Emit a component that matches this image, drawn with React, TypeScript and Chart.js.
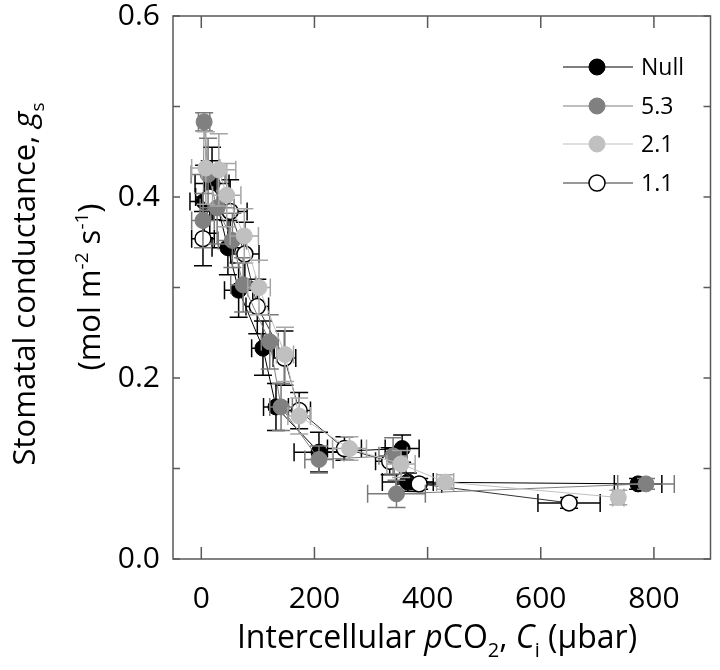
import { useEffect, useRef } from 'react';
import { Chart, registerables } from 'chart.js';

Chart.register(...registerables);

// ---------- data ----------
const seriesNames = ['Null', '5.3', '2.1', '1.1'];

const nullX = [5, 19, 47, 66, 109, 132, 208, 355, 365, 772];
const nullY = [0.395, 0.415, 0.344, 0.297, 0.233, 0.168, 0.118, 0.122, 0.085, 0.083];
const nullXErr = [25, 30, 28, 25, 20, 22, 44, 30, 45, 42];
const nullYErr = [0.04, 0.04, 0.03, 0.03, 0.03, 0.026, 0.022, 0.015, 0.01, 0.006];

const s53X = [3, 5, 12, 28, 55, 74, 121, 141, 208, 339, 345, 786];
const s53Y = [0.374, 0.483, 0.425, 0.388, 0.352, 0.303, 0.24, 0.168, 0.11, 0.114, 0.072, 0.083];
const s53XErr = [20, 10, 30, 30, 25, 22, 15, 20, 25, 25, 51, 50];
const s53YErr = [0.03, 0.01, 0.04, 0.04, 0.03, 0.03, 0.03, 0.026, 0.015, 0.02, 0.015, 0.006];

const s21X = [8, 31, 45, 76, 102, 148, 173, 262, 353, 431, 737];
const s21Y = [0.432, 0.43, 0.402, 0.357, 0.3, 0.226, 0.158, 0.122, 0.105, 0.085, 0.068];
const s21XErr = [25, 30, 25, 25, 20, 15, 20, 30, 25, 15, 10];
const s21YErr = [0.04, 0.04, 0.035, 0.03, 0.03, 0.03, 0.02, 0.013, 0.015, 0.008, 0.008];

const s11X = [3, 15, 51, 77, 99, 147, 173, 253, 333, 385, 650];
const s11Y = [0.354, 0.4, 0.384, 0.337, 0.279, 0.222, 0.164, 0.122, 0.108, 0.083, 0.062];
const s11XErr = [20, 25, 30, 25, 20, 20, 20, 30, 25, 40, 55];
const s11YErr = [0.03, 0.04, 0.035, 0.035, 0.03, 0.03, 0.02, 0.013, 0.015, 0.006, 0.006];

const xTickValues = [0, 200, 400, 600, 800];
const yTickValues = [0, 0.2, 0.4, 0.6];
const yMinorTickValues = [0, 0.1, 0.2, 0.3, 0.4, 0.5, 0.6];

const FONT = '"Open Sans", "Liberation Sans", sans-serif';

type Seg = { t: string; italic?: boolean; sub?: boolean; sup?: boolean };

const xTitle: Seg[] = [
  { t: 'Intercellular ' },
  { t: 'p', italic: true },
  { t: 'CO' },
  { t: '2', sub: true },
  { t: ', ' },
  { t: 'C', italic: true },
  { t: 'i', sub: true },
  { t: ' (µbar)' },
];
const yTitle1: Seg[] = [
  { t: 'Stomatal conductance, ' },
  { t: 'g', italic: true },
  { t: 's', sub: true },
];
const yTitle2: Seg[] = [
  { t: '(mol m' },
  { t: '-2', sup: true },
  { t: ' s' },
  { t: '-1', sup: true },
  { t: ')' },
];

function drawRich(ctx: CanvasRenderingContext2D, segs: Seg[], x: number, y: number, size: number) {
  const small = Math.round(size * 0.62);
  const fontFor = (s: Seg) => `${s.italic ? 'italic ' : ''}${s.sub || s.sup ? small : size}px ${FONT}`;
  let w = 0;
  for (const s of segs) {
    ctx.font = fontFor(s);
    w += ctx.measureText(s.t).width;
  }
  let cx = x - w / 2;
  ctx.textAlign = 'left';
  ctx.textBaseline = 'alphabetic';
  for (const s of segs) {
    ctx.font = fontFor(s);
    const dy = s.sub ? size * 0.28 : s.sup ? -size * 0.4 : 0;
    ctx.fillText(s.t, cx, y + dy);
    cx += ctx.measureText(s.t).width;
  }
}

const errorBarPlugin = {
  id: 'errorBars',
  beforeDatasetDraw(chart: any, args: any) {
    const ds = chart.data.datasets[args.index];
    const meta = args.meta;
    const xs = chart.scales.x;
    const ys = chart.scales.y;
    const ctx = chart.ctx as CanvasRenderingContext2D;
    const cap = 9;
    ctx.save();
    ctx.strokeStyle = ds.errColor;
    ctx.lineWidth = 1.5;
    ds.data.forEach((p: any, i: number) => {
      if (!meta.data[i]) return;
      const px = xs.getPixelForValue(p.x);
      const py = ys.getPixelForValue(p.y);
      const x0 = xs.getPixelForValue(p.x - ds.xErr[i]);
      const x1 = xs.getPixelForValue(p.x + ds.xErr[i]);
      const y0 = ys.getPixelForValue(p.y - ds.yErr[i]);
      const y1 = ys.getPixelForValue(p.y + ds.yErr[i]);
      ctx.beginPath();
      ctx.moveTo(x0, py); ctx.lineTo(x1, py);
      ctx.moveTo(x0, py - cap); ctx.lineTo(x0, py + cap);
      ctx.moveTo(x1, py - cap); ctx.lineTo(x1, py + cap);
      ctx.moveTo(px, y0); ctx.lineTo(px, y1);
      ctx.moveTo(px - cap, y0); ctx.lineTo(px + cap, y0);
      ctx.moveTo(px - cap, y1); ctx.lineTo(px + cap, y1);
      ctx.stroke();
    });
    ctx.restore();
  },
};

const framePlugin = {
  id: 'frameAndTitles',
  afterDraw(chart: any) {
    const ctx = chart.ctx as CanvasRenderingContext2D;
    const a = chart.chartArea;
    const xs = chart.scales.x;
    const ys = chart.scales.y;
    ctx.save();
    ctx.strokeStyle = '#595959';
    ctx.lineWidth = 1.5;
    ctx.strokeRect(a.left, a.top, a.right - a.left, a.bottom - a.top);
    ctx.beginPath();
    for (const v of xTickValues) {
      const px = xs.getPixelForValue(v);
      ctx.moveTo(px, a.bottom); ctx.lineTo(px, a.bottom - 12);
      ctx.moveTo(px, a.top); ctx.lineTo(px, a.top + 12);
    }
    for (const v of yMinorTickValues) {
      const py = ys.getPixelForValue(v);
      ctx.moveTo(a.left, py); ctx.lineTo(a.left + 7, py);
      ctx.moveTo(a.right, py); ctx.lineTo(a.right - 7, py);
    }
    ctx.stroke();

    // legend
    const legendY = [67, 106, 144, 183];
    chart.data.datasets.forEach((ds: any, i: number) => {
      const y = legendY[i];
      ctx.strokeStyle = ds.borderColor;
      ctx.lineWidth = 1.2;
      ctx.beginPath();
      ctx.moveTo(563, y); ctx.lineTo(633, y);
      ctx.stroke();
      ctx.beginPath();
      ctx.arc(597, y, 8, 0, Math.PI * 2);
      ctx.fillStyle = ds.pointBackgroundColor;
      ctx.fill();
      ctx.strokeStyle = ds.pointBorderColor;
      ctx.lineWidth = ds.pointBorderWidth;
      ctx.stroke();
      ctx.fillStyle = '#000';
      ctx.font = `23px ${FONT}`;
      ctx.textAlign = 'left';
      ctx.textBaseline = 'middle';
      ctx.fillText(seriesNames[i], 641, y + 1);
    });

    // axis titles
    ctx.fillStyle = '#000';
    drawRich(ctx, xTitle, 437, 648, 32);
    ctx.save();
    ctx.translate(35, 284);
    ctx.rotate(-Math.PI / 2);
    drawRich(ctx, yTitle1, 0, 0, 31);
    ctx.restore();
    ctx.save();
    ctx.translate(100, 287);
    ctx.rotate(-Math.PI / 2);
    drawRich(ctx, yTitle2, 0, 0, 31);
    ctx.restore();
    ctx.restore();
  },
};

function toPoints(xs: number[], ys: number[]) {
  return xs.map((x, i) => ({ x, y: ys[i] }));
}

export default function App() {
  const ref = useRef<HTMLCanvasElement | null>(null);
  useEffect(() => {
    if (!ref.current) return;
    const chart = new Chart(ref.current, {
      type: 'scatter',
      data: {
        datasets: [
          {
            label: seriesNames[0], data: toPoints(nullX, nullY), xErr: nullXErr, yErr: nullYErr,
            errColor: '#000000', showLine: true, borderColor: '#000000', borderWidth: 1,
            pointRadius: 8, pointBackgroundColor: '#000000', pointBorderColor: '#000000', pointBorderWidth: 1, order: 4,
          },
          {
            label: seriesNames[1], data: toPoints(s53X, s53Y), xErr: s53XErr, yErr: s53YErr,
            errColor: '#7a7a7a', showLine: true, borderColor: '#7f7f7f', borderWidth: 1,
            pointRadius: 8, pointBackgroundColor: '#808080', pointBorderColor: '#808080', pointBorderWidth: 1, order: 2,
          },
          {
            label: seriesNames[2], data: toPoints(s21X, s21Y), xErr: s21XErr, yErr: s21YErr,
            errColor: '#a6a6a6', showLine: true, borderColor: '#bfbfbf', borderWidth: 1,
            pointRadius: 8, pointBackgroundColor: '#c0c0c0', pointBorderColor: '#c0c0c0', pointBorderWidth: 1, order: 1,
          },
          {
            label: seriesNames[3], data: toPoints(s11X, s11Y), xErr: s11XErr, yErr: s11YErr,
            errColor: '#000000', showLine: true, borderColor: '#333333', borderWidth: 1,
            pointRadius: 8, pointBackgroundColor: '#ffffff', pointBorderColor: '#000000', pointBorderWidth: 1.5, order: 3,
          },
        ] as any,
      },
      options: {
        animation: false,
        responsive: false,
        maintainAspectRatio: false,
        layout: { padding: { top: 16, right: 3, left: 0, bottom: 0 } },
        plugins: { legend: { display: false }, tooltip: { enabled: false } },
        scales: {
          x: {
            type: 'linear', min: -50, max: 900,
            afterBuildTicks: (s: any) => { s.ticks = xTickValues.map((v) => ({ value: v })); },
            afterFit: (s: any) => { s.height = 111; s.paddingLeft = 0; s.paddingRight = 0; },
            ticks: { font: { family: FONT, size: 30 }, color: '#000', padding: 22, maxRotation: 0, callback: (v: any) => String(v) },
            grid: { display: false, drawTicks: false },
            border: { display: false },
          },
          y: {
            type: 'linear', min: 0, max: 0.6,
            afterBuildTicks: (s: any) => { s.ticks = yTickValues.map((v) => ({ value: v })); },
            afterFit: (s: any) => { s.width = 173; s.paddingTop = 0; s.paddingBottom = 0; },
            ticks: { font: { family: FONT, size: 30 }, color: '#000', padding: 13, callback: (v: any) => Number(v).toFixed(1) },
            grid: { display: false, drawTicks: false },
            border: { display: false },
          },
        },
      },
      plugins: [errorBarPlugin, framePlugin],
    } as any);
    return () => chart.destroy();
  }, []);
  return (
    <div style={{ position: 'fixed', left: 0, top: 0, width: 720, height: 670, background: '#fff' }}>
      <canvas ref={ref} width={720} height={670} />
    </div>
  );
}
